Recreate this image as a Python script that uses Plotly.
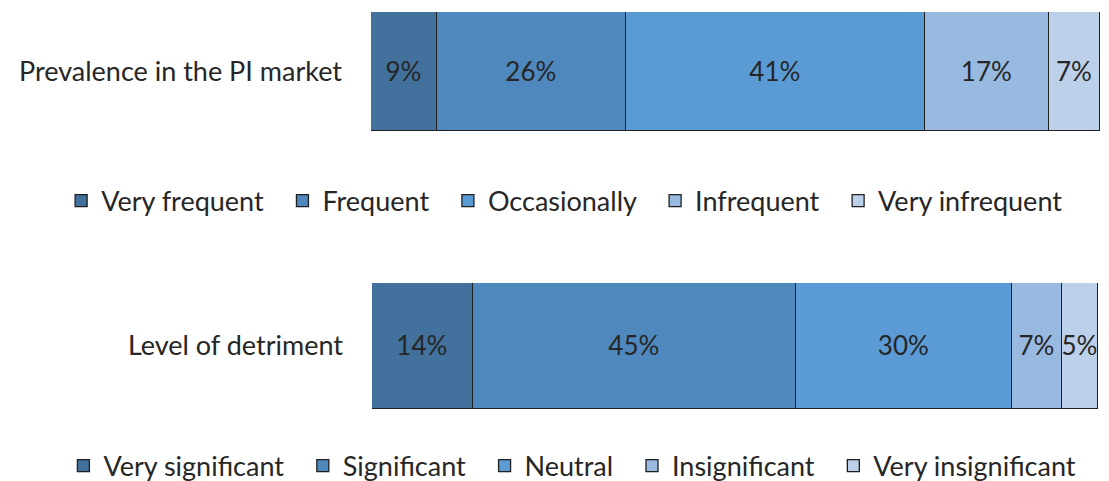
import plotly.graph_objects as go

categories = ["Prevalence in the PI market", "Level of detriment"]

prev_labels = ["Very frequent", "Frequent", "Occasionally", "Infrequent", "Very infrequent"]
prev_values = [9, 26, 41, 17, 7]

detr_labels = ["Very significant", "Significant", "Neutral", "Insignificant", "Very insignificant"]
detr_values = [14, 45, 30, 7, 5]

colors = ["#41719C", "#4E88BC", "#5B9BD5", "#98B9E0", "#BDD0EA"]

FONT = "Lato"
TXT = "#262626"
PAD = "\u00a0" * 2
LBL = 27
BARTXT = 26

fig = go.Figure()

for lab, val, col in zip(prev_labels, prev_values, colors):
    fig.add_trace(go.Bar(
        y=[categories[0]], x=[val], orientation="h", name=lab + PAD,
        marker=dict(color=col, line=dict(color="#1f1f1f", width=1.3)),
        text=[f"{val}%"], textposition="inside", insidetextanchor="middle",
        textangle=0,
        textfont=dict(size=BARTXT, color=TXT, family=FONT),
        xaxis="x", yaxis="y", legend="legend", hoverinfo="x+name",
    ))

for lab, val, col in zip(detr_labels, detr_values, colors):
    fig.add_trace(go.Bar(
        y=[categories[1]], x=[val], orientation="h", name=lab + PAD,
        marker=dict(color=col, line=dict(color="#1f1f1f", width=1.3)),
        text=[f"{val}%"], textposition="inside", insidetextanchor="middle",
        textangle=0,
        textfont=dict(size=BARTXT, color=TXT, family=FONT),
        xaxis="x2", yaxis="y2", legend="legend2", hoverinfo="x+name",
    ))

axis_common = dict(showgrid=False, zeroline=False, showline=False)

fig.update_layout(
    width=1109, height=481,
    margin=dict(l=0, r=0, t=0, b=0, autoexpand=False),
    paper_bgcolor="white", plot_bgcolor="white",
    barmode="stack", bargap=0,
    font=dict(family=FONT, size=LBL, color=TXT),
    uniformtext=dict(minsize=BARTXT, mode="show"),
    xaxis=dict(domain=[371 / 1109, 1100 / 1109], range=[0, sum(prev_values)],
               visible=False, anchor="y", **axis_common),
    yaxis=dict(domain=[1 - 131 / 481, 1 - 12 / 481], range=[-0.5, 0.5],
               anchor="x", ticks="", ticklabelstandoff=28,
               tickfont=dict(size=LBL, family=FONT, color=TXT), **axis_common),
    xaxis2=dict(domain=[372 / 1109, 1098 / 1109], range=[0, sum(detr_values)],
                visible=False, anchor="y2", **axis_common),
    yaxis2=dict(domain=[1 - 409 / 481, 1 - 283 / 481], range=[-0.5, 0.5],
                anchor="x2", ticks="", ticklabelstandoff=28,
                tickfont=dict(size=LBL, family=FONT, color=TXT), **axis_common),
    legend=dict(orientation="h", x=0.515, xanchor="center", y=1 - 201 / 481,
                yanchor="middle", traceorder="normal",
                font=dict(size=LBL, family=FONT, color=TXT), bgcolor="rgba(0,0,0,0)"),
    legend2=dict(orientation="h", x=0.522, xanchor="center", y=1 - 466 / 481,
                 yanchor="middle", traceorder="normal",
                 font=dict(size=LBL, family=FONT, color=TXT), bgcolor="rgba(0,0,0,0)"),
    showlegend=True,
)

fig.write_html("out.html")
